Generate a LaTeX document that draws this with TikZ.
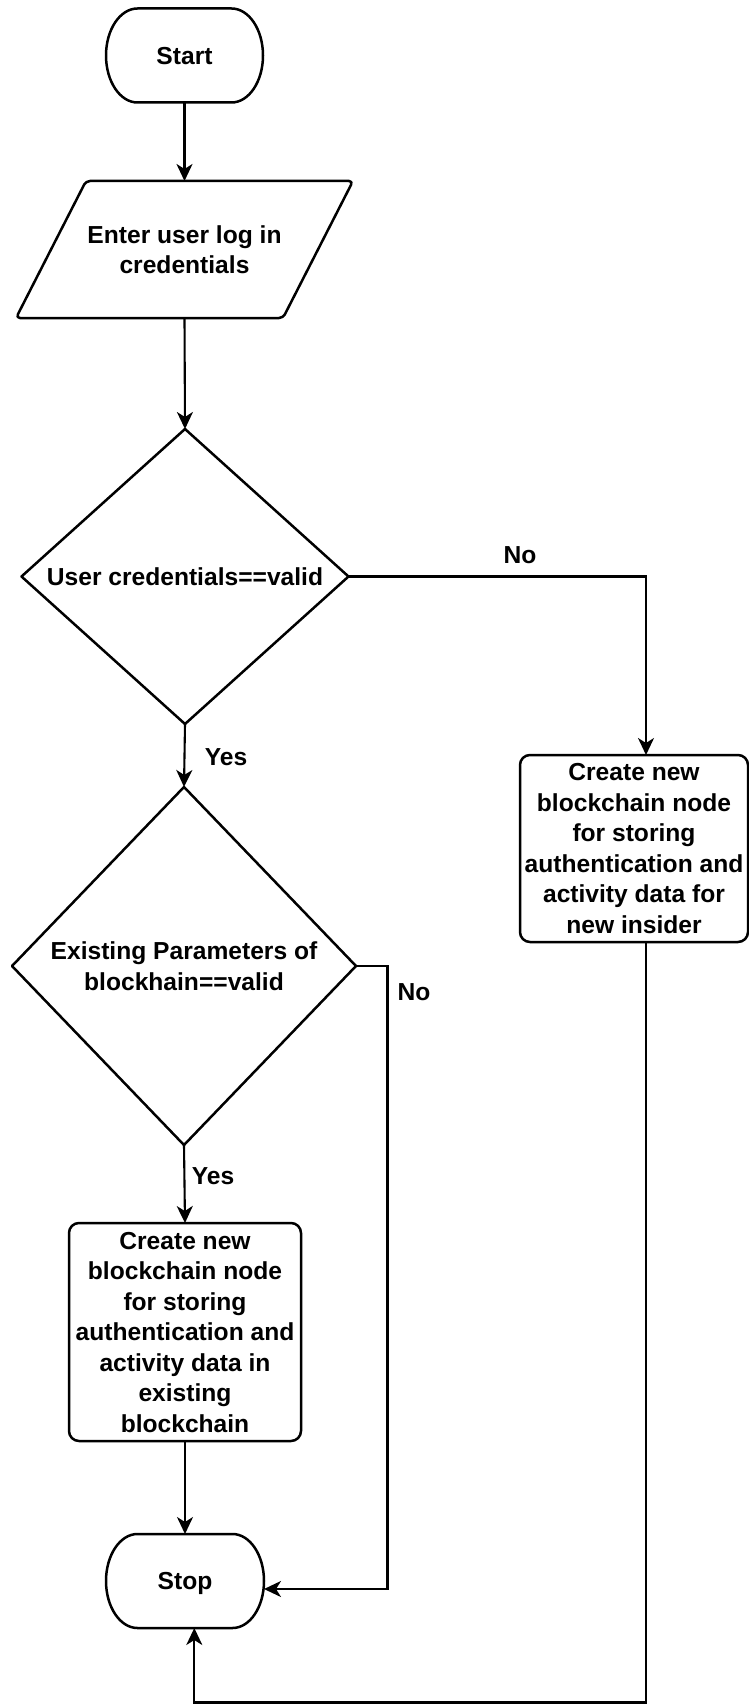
\documentclass[tikz,border=0pt]{standalone}
\usepackage{fontspec}
\setmainfont{Liberation Sans}
\usetikzlibrary{arrows.meta}

% outline of a start/stop terminator drawn around a named node
\newcommand\termoutline[1]{%
  \draw[shapeline] ([xshift=31.5pt]#1.north west) -- ([xshift=-31.5pt]#1.north east)
    arc[start angle=90,end angle=-90,x radius=31.5pt,y radius=47pt]
    -- ([xshift=31.5pt]#1.south west)
    arc[start angle=270,end angle=90,x radius=31.5pt,y radius=47pt] -- cycle;}

\begin{document}
\begin{tikzpicture}[x=1pt,y=1pt,
  txt/.style={font=\bfseries\fontsize{24.6}{30.5}\selectfont, align=center,
    inner sep=0pt, outer sep=0pt, text depth=0pt},
  shapeline/.style={draw=black, line width=2.5pt, line join=round},
  procbox/.style={txt, draw=black, line width=2.5pt, rounded corners=10pt},
  flow/.style={draw=black, line width=2.1pt,
    -{Stealth[length=17pt,width=16pt,inset=5pt]}},
  lbl/.style={font=\bfseries\fontsize{24.6}{30.5}\selectfont, inner sep=0pt}]

\useasboundingbox (0,0) rectangle (749,-1704);

% start terminator
\node[txt, minimum width=157pt, minimum height=94pt] (start) at (184.5,-55.5) {Start};
\termoutline{start}

% input parallelogram
\node[txt, minimum width=337pt, minimum height=137pt] (input) at (184.5,-249.5)
  {Enter user log in\\credentials};
\draw[shapeline, rounded corners=4pt] ([xshift=70pt]input.north west) -- (input.north east)
  -- ([xshift=-70pt]input.south east) -- (input.south west) -- cycle;

% first decision
\node[txt, minimum width=327pt, minimum height=295pt] (dec1) at (185,-576.5)
  {User credentials==valid};
\draw[shapeline] (dec1.north) -- (dec1.east) -- (dec1.south) -- (dec1.west) -- cycle;

% second decision
\node[txt, minimum width=344pt, minimum height=358pt] (dec2) at (184,-966)
  {Existing Parameters of\\blockhain==valid};
\draw[shapeline] (dec2.north) -- (dec2.east) -- (dec2.south) -- (dec2.west) -- cycle;

% process boxes
\node[procbox, minimum width=228pt, minimum height=187pt] (boxr) at (634,-848.5)
  {Create new\\blockchain node\\for storing\\authentication and\\activity data for\\new insider};
\node[procbox, minimum width=232pt, minimum height=218pt] (boxl) at (185,-1332)
  {Create new\\blockchain node\\for storing\\authentication and\\activity data in\\existing\\blockchain};

% stop terminator
\node[txt, minimum width=158pt, minimum height=94pt] (stop) at (185,-1581) {Stop};
\termoutline{stop}

% connectors
\draw[flow] (start.south) -- (input.north);
\draw[flow] (input.south) -- (dec1.north);
\draw[flow] (dec1.east) -| ([xshift=12pt]boxr.north);
\draw[flow] (dec1.south) -- (dec2.north);
\coordinate (c2) at (387.5,-966);
\draw[flow] (dec2.east) -- (c2) |- ([yshift=-8pt]stop.east);
\draw[flow] (dec2.south) -- (boxl.north);
\draw[flow] (boxl.south) -- (stop.north);
\coordinate (b1) at (646,-1702.5);
\draw[flow] ([xshift=12pt]boxr.south) -- (b1) -| ([xshift=9.3pt]stop.south);

% branch labels
\node[lbl] (no1) at (520,-555) {No};
\node[lbl] (yes1) at (226,-757) {Yes};
\node[lbl] (no2) at (414,-992) {No};
\node[lbl] (yes2) at (213,-1176) {Yes};

\end{tikzpicture}
\end{document}
